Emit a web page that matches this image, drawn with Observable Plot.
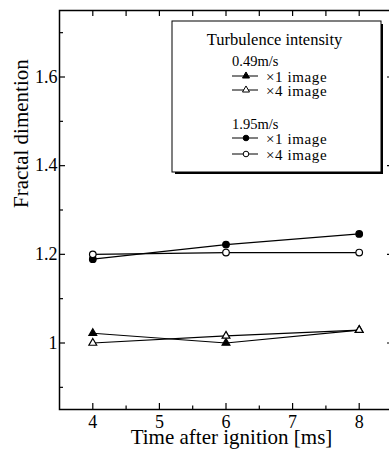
<!DOCTYPE html>
<html><head><meta charset="utf-8">
<script src="https://cdn.jsdelivr.net/npm/d3@7"></script>
<script src="https://cdn.jsdelivr.net/npm/@observablehq/plot@0.6"></script>
<style>
body{margin:0;background:#fff;}
svg text{font-family:"Liberation Serif","Times New Roman",serif;}
</style>
</head><body><div id="chart"></div>
<script>
// ---- data ----
const time = [4, 6, 8];                       // ms after ignition
const v049_x1 = [1.022, 1.000, 1.029];        // 0.49 m/s, ×1 image (filled triangle)
const v049_x4 = [1.000, 1.016, 1.029];        // 0.49 m/s, ×4 image (open triangle)
const v195_x1 = [1.189, 1.222, 1.246];        // 1.95 m/s, ×1 image (filled circle)
const v195_x4 = [1.200, 1.204, 1.204];        // 1.95 m/s, ×4 image (open circle)

const xMajor = [4, 5, 6, 7, 8];
const xMinor = [4.5, 5.5, 6.5, 7.5];
const yMajor = [1.0, 1.2, 1.4, 1.6];
const yMinor = [0.9, 1.1, 1.3, 1.5, 1.7];
const yLabels = ["1", "1.2", "1.4", "1.6"];

const xTitle = "Time after ignition [ms]";
const yTitle = "Fractal dimention";
const legendTitle = "Turbulence intensity";
const groupLabels = ["0.49m/s", "1.95m/s"];
const imageLabels = ["×1 image", "×4 image"];

const series = [
  {values: v049_x1, symbol: "triangle", fill: "black", group: 0, img: 0},
  {values: v049_x4, symbol: "triangle", fill: "white", group: 0, img: 1},
  {values: v195_x1, symbol: "circle", fill: "black", group: 1, img: 0},
  {values: v195_x4, symbol: "circle", fill: "white", group: 1, img: 1}
];
const rows = series.map(s => time.map((t, i) => ({time: t, value: s.values[i]})));

const symR = {triangle: 2.9, circle: 3.3};
const noText = () => "";

const marks = [
  Plot.frame({stroke: "black", strokeWidth: 1.5}),
  // bottom axis
  Plot.axisX(xMajor, {anchor: "bottom", tickSize: -6, tickFormat: noText, label: null, strokeWidth: 1.2}),
  Plot.axisX(xMinor, {anchor: "bottom", tickSize: -3.5, tickFormat: noText, label: null, strokeWidth: 1.2}),
  Plot.axisX(xMajor, {anchor: "bottom", tickSize: 0, tickPadding: 6, label: null, fontSize: 18, tickFormat: d => String(d)}),
  // top axis
  Plot.axisX([...xMajor, ...xMinor], {anchor: "top", tickSize: -5, tickFormat: noText, label: null, strokeWidth: 1.2}),
  // left axis
  Plot.axisY(yMajor, {anchor: "left", tickSize: -6, tickFormat: noText, label: null, strokeWidth: 1.2}),
  Plot.axisY(yMinor, {anchor: "left", tickSize: -4, tickFormat: noText, label: null, strokeWidth: 1.2}),
  Plot.axisY(yMajor, {anchor: "left", tickSize: 0, tickPadding: 2, label: null, fontSize: 18,
    tickFormat: d => yLabels[yMajor.indexOf(d)]}),
  // right axis
  Plot.axisY(yMajor, {anchor: "right", tickSize: -6, tickFormat: noText, label: null, strokeWidth: 1.2}),
  Plot.axisY(yMinor, {anchor: "right", tickSize: -3, tickFormat: noText, label: null, strokeWidth: 1.2}),
  // axis titles
  Plot.text([xTitle], {frameAnchor: "bottom", dx: 5.5, dy: 34, lineAnchor: "bottom", fontSize: 21}),
  Plot.text([yTitle], {frameAnchor: "left", rotate: -90, dx: -32, dy: -2, lineAnchor: "bottom", fontSize: 21})
];
series.forEach((s, k) => {
  marks.push(Plot.line(rows[k], {x: "time", y: "value", stroke: "black", strokeWidth: 1.2}));
});
series.forEach((s, k) => {
  marks.push(Plot.dot(rows[k], {x: "time", y: "value", symbol: s.symbol, r: symR[s.symbol],
    fill: s.fill, stroke: "black", strokeWidth: 1.2}));
});

const plot = Plot.plot({
  width: 389, height: 450,
  marginLeft: 59, marginRight: -3, marginTop: 10, marginBottom: 41,
  style: {fontFamily: "Liberation Serif, serif", background: "white", color: "black", overflow: "hidden"},
  x: {domain: [3.5, 8.5], axis: null},
  y: {domain: [0.85, 1.75], axis: null},
  marks
});
document.getElementById("chart").appendChild(plot);

// ---- legend box (layout drawn in pixel space) ----
const svg = d3.select(plot);
const lg = svg.append("g").attr("font-family", "Liberation Serif, serif")
  .attr("fill", "black").attr("text-anchor", "start");
const bx = 172, by = 21, bw = 209, bh = 151;
lg.append("path").attr("d", `M${bx + bw + 1},${by + 3}V${by + bh + 1}H${bx + 3}`)
  .attr("fill", "none").attr("stroke", "black").attr("stroke-width", 2);
lg.append("rect").attr("x", bx).attr("y", by).attr("width", bw).attr("height", bh)
  .attr("fill", "white").attr("stroke", "black").attr("stroke-width", 1);
lg.append("text").attr("x", bx + bw / 2 - 2).attr("y", 45).attr("text-anchor", "middle")
  .attr("font-size", 16.5).text(legendTitle);

const groupY = [66, 129];
const rowY = [[76, 90], [138, 154]];
groupLabels.forEach((g, gi) => {
  lg.append("text").attr("x", 232).attr("y", groupY[gi]).attr("font-size", 14.5).text(g);
});
series.forEach(s => {
  const y = rowY[s.group][s.img];
  lg.append("line").attr("x1", 232).attr("x2", 258).attr("y1", y).attr("y2", y)
    .attr("stroke", "black").attr("stroke-width", 1);
  const sym = s.symbol === "triangle" ? d3.symbolTriangle : d3.symbolCircle;
  const r = s.symbol === "triangle" ? 2.6 : 2.8;
  lg.append("path").attr("transform", `translate(246,${y})`)
    .attr("d", d3.symbol(sym, Math.PI * r * r)())
    .attr("fill", s.fill).attr("stroke", "black").attr("stroke-width", 1);
  lg.append("text").attr("x", 266).attr("y", y + 6).attr("font-size", 15)
    .attr("letter-spacing", 0.6).text(imageLabels[s.img]);
});
</script>
</body></html>
